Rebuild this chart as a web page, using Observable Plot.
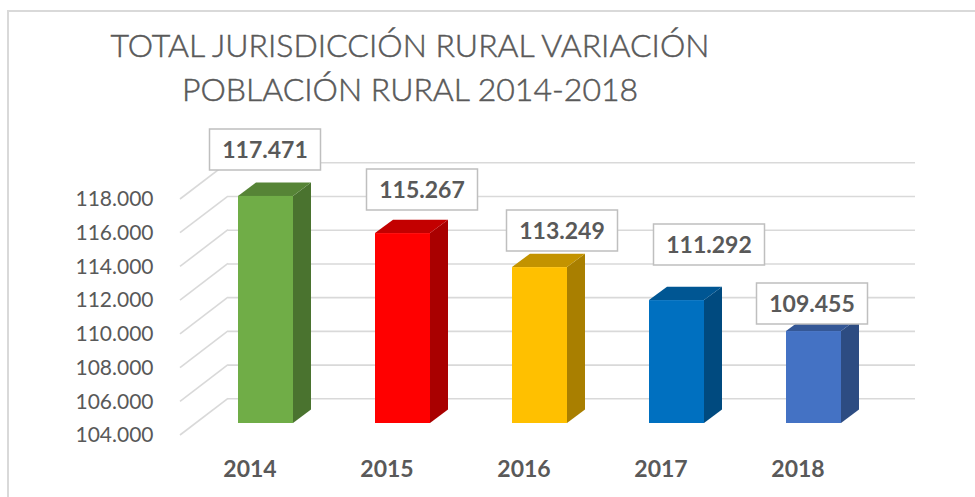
<!DOCTYPE html>
<html><head><meta charset="utf-8">
<script src="https://cdn.jsdelivr.net/npm/d3@7"></script>
<script src="https://cdn.jsdelivr.net/npm/@observablehq/plot@0.6"></script>
<style>
html,body{margin:0;padding:0;background:#fff;}
#wrap{position:relative;width:975px;height:497px;overflow:hidden;font-family:Lato,sans-serif;}
#frame{position:absolute;left:7px;top:10px;width:1200px;height:800px;border:2px solid #d9d9d9;box-sizing:border-box;}
#title{position:absolute;left:60px;width:700px;top:23px;text-align:center;font-size:32px;line-height:44px;color:#595959;font-weight:300;white-space:nowrap;-webkit-text-stroke:0.5px #595959;}
#chart{position:absolute;left:0;top:0;}
#chart [aria-label^="x-axis"] text{font-weight:700;font-size:23px;}
#chart [aria-label^="y-axis"] text{font-size:21px;}
</style>
</head><body>
<div id="wrap"><div id="frame"></div><div id="title">TOTAL JURISDICCIÓN RURAL VARIACIÓN<br>POBLACIÓN RURAL 2014-2018</div><div id="chart"></div></div>
<script>
// ---- data ----
const years = ["2014", "2015", "2016", "2017", "2018"];
const population = [117471, 115267, 113249, 111292, 109455];
const yTicks = [104000, 106000, 108000, 110000, 112000, 114000, 116000, 118000];

// ---- styles ----
const barColors = ["#70AD47", "#FF0000", "#FFC000", "#0070C0", "#4472C4"];
// manual label nudges (px) relative to the value position on the front plane
const labelNudges = [[15, -59], [35, -56], [38, -49], [48, -68], [14, -40]];
const gridColor = "#d9d9d9";
const textColor = "#595959";
const WALL = [48, -36.7];      // full depth of the 3D box
const BAR_FRONT = [16, -12];   // offset of bar front faces from the front plane
const BAR_DEPTH = [18, -13.4]; // depth of a bar

const data = years.map((year, i) => ({year, value: population[i], color: barColors[i]}));
const base = yTicks[0];

const locale = d3.formatLocale({decimal: ",", thousands: ".", grouping: [3], currency: ["", ""]});
const fmt = locale.format(",.0f");

function depth3D(index, scales, values, dimensions) {
  const x = scales.x, y = scales.y;
  const bw = typeof x.bandwidth === "function" ? x.bandwidth() : x.bandwidth;
  const g = d3.create("svg:g");
  const left = dimensions.marginLeft;
  // side wall gridlines (diagonals)
  for (const t of yTicks) {
    g.append("line")
      .attr("x1", left).attr("y1", y(t))
      .attr("x2", left + WALL[0]).attr("y2", y(t) + WALL[1])
      .attr("stroke", gridColor).attr("stroke-width", 1.6);
  }
  // bar tops and sides
  for (const d of data) {
    const x0 = x(d.year) + BAR_FRONT[0], x1 = x0 + bw;
    const yt = y(d.value) + BAR_FRONT[1], yb = y(base) + BAR_FRONT[1];
    const [ddx, ddy] = BAR_DEPTH;
    const c = d3.rgb(d.color);
    g.append("path")
      .attr("d", `M${x1},${yt}L${x1 + ddx},${yt + ddy}L${x1 + ddx},${yb + ddy}L${x1},${yb}Z`)
      .attr("fill", c.darker(1.15).formatHex());
    g.append("path")
      .attr("d", `M${x0},${yt}L${x0 + ddx},${yt + ddy}L${x1 + ddx},${yt + ddy}L${x1},${yt}Z`)
      .attr("fill", c.darker(0.75).formatHex());
  }
  return g.node();
}

const boxSymbol = {draw(ctx) { ctx.rect(-55.5, -20.5, 111, 41); }};

const labelMarks = data.flatMap((d, i) => [
  Plot.dot([d], {x: "year", y: "value", r: 1, symbol: boxSymbol, fill: "white", stroke: "#bfbfbf", strokeWidth: 1.5,
    dx: labelNudges[i][0], dy: labelNudges[i][1]}),
  Plot.text([d], {x: "year", y: "value", text: (v) => fmt(v.value), fill: textColor, fontSize: 23, fontWeight: "bold",
    dx: labelNudges[i][0], dy: labelNudges[i][1] + 1})
]);

const chart = Plot.plot({
  width: 975,
  height: 497,
  marginLeft: 180,
  marginRight: 108,
  marginTop: 199,
  marginBottom: 62,
  style: {fontFamily: "Lato, sans-serif", fontSize: "21px", color: textColor, background: "transparent", overflow: "visible"},
  x: {domain: years, paddingInner: 0.6, paddingOuter: 0.3, tickSize: 0, tickPadding: 25, label: null},
  y: {domain: [yTicks[0], yTicks[yTicks.length - 1]], ticks: yTicks, tickFormat: fmt, tickSize: 0, tickPadding: 27, label: null},
  marks: [
    Plot.ruleY(yTicks, {stroke: gridColor, strokeWidth: 1.6, strokeOpacity: 1, dx: WALL[0], dy: WALL[1]}),
    depth3D,
    Plot.barY(data, {x: "year", y1: base, y2: "value", fill: "color", dx: BAR_FRONT[0], dy: BAR_FRONT[1]}),
    ...labelMarks
  ]
});
document.getElementById("chart").appendChild(chart);
</script>
</body></html>
